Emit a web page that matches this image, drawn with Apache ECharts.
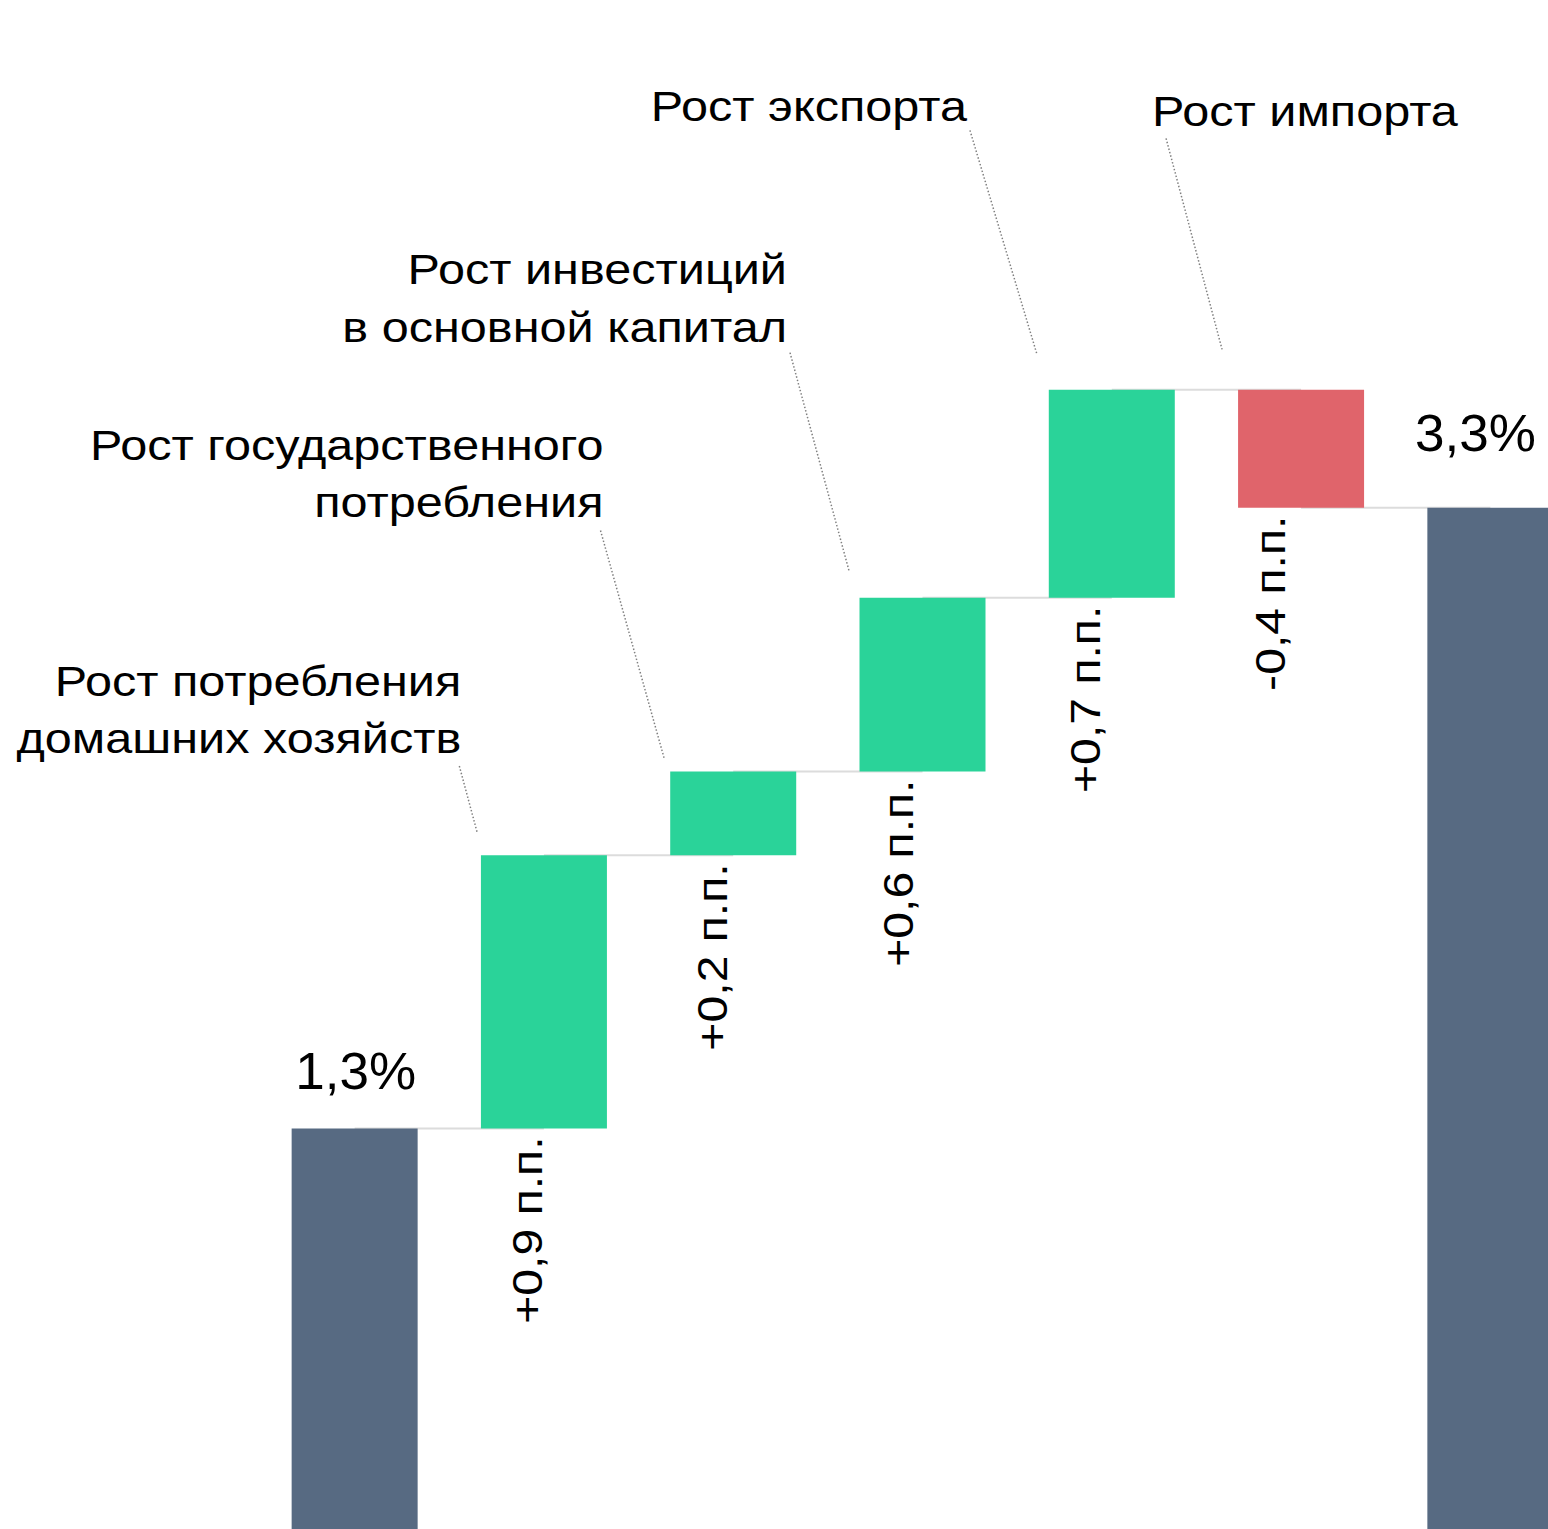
<!DOCTYPE html>
<html>
<head>
<meta charset="utf-8">
<style>
  html, body { margin: 0; padding: 0; background: #ffffff; }
  #chart { width: 1548px; height: 1529px; }
</style>
<script src="https://cdn.jsdelivr.net/npm/echarts@6/dist/echarts.min.js"></script>
</head>
<body>
<div id="chart"></div>
<script>
// ---------------- DATA ----------------
const startLabel = '1,3%';
const startValue = 1.3;
const componentNames = [
  'Рост потребления\nдомашних хозяйств',
  'Рост государственного\nпотребления',
  'Рост инвестиций\nв основной капитал',
  'Рост экспорта',
  'Рост импорта'
];
const componentDeltas = [0.88, 0.27, 0.56, 0.67, -0.38];
const deltaLabels = ['+0,9 п.п.', '+0,2 п.п.', '+0,6 п.п.', '+0,7 п.п.', '-0,4 п.п.'];
const endLabel = '3,3%';
const endValue = 3.3;

// ---------------- STYLE / LAYOUT ----------------
const FONT = '"Liberation Sans", Arial, Helvetica, sans-serif';
const COLOR_TOTAL = '#576A82';
const COLOR_UP = '#2AD399';
const COLOR_DOWN = '#E0646B';
const COLOR_CONNECTOR = '#DCDCDC';
const BAR_W = 126;
const ANNOT_FONT_SIZE = 43;
const ANNOT_STRETCH = 1.13;
const DELTA_FONT_SIZE = 43;
const DELTA_STRETCH = 1.12;
// annotation layout relative to the top-left corner of each component bar
const ANNOT_LAYOUT = [
  { tx: -19.6, ty: -88.5,  align: 'right', line: [-21.6, -89.3, -3.6, -22.3] },
  { tx: -66.7, ty: -240.3, align: 'right', line: [-69.7, -241, -5.7, -12] },
  { tx: -72.5, ty: -242.3, align: 'right', line: [-69.5, -245, -10.5, -27] },
  { tx: -81.8, ty: -254.5, align: 'right', line: [-78.8, -259.3, -11.8, -35.3] },
  { tx: -86.1, ty: -249.5, align: 'left',  line: [-72, -251.3, -16, -40.3] }
];
// horizontal shift of each rotated delta label from its bar centre
const DELTA_LABEL_DX = [5, 1, -3, -5, -9];
const TOTAL_LABEL_OFFSETS = [[1, -32], [-15, -49]];

// ---------------- DERIVED ----------------
const categories = ['start'].concat(componentNames, ['end']);
const baseData = [0];
const barData = [{ value: startValue, itemStyle: { color: COLOR_TOTAL } }];
const levels = [startValue];
let level = startValue;
componentDeltas.forEach(function (d) {
  baseData.push(d >= 0 ? level : level + d);
  barData.push({ value: Math.abs(d), itemStyle: { color: d >= 0 ? COLOR_UP : COLOR_DOWN } });
  level += d;
  levels.push(level);
});
baseData.push(0);
barData.push({ value: endValue, itemStyle: { color: COLOR_TOTAL } });

const connectorData = levels.map(function (l, i) { return [i, l]; });
const annotData = componentDeltas.map(function (d, k) { return [k + 1, Math.max(levels[k], levels[k + 1])]; });
const deltaLabelData = componentDeltas.map(function (d, k) { return [k + 1, Math.min(levels[k], levels[k + 1])]; });
const totalData = [[0, startValue], [categories.length - 1, endValue]];
const totalTexts = [startLabel, endLabel];

const chart = echarts.init(document.getElementById('chart'), null, { renderer: 'svg' });

chart.setOption({
  animation: false,
  backgroundColor: '#ffffff',
  grid: { left: 260, width: 1325, top: 11, bottom: -3, containLabel: false, outerBoundsMode: 'none' },
  xAxis: { type: 'category', data: categories, show: false },
  yAxis: { type: 'value', min: 0, max: 4.9, show: false },
  series: [
    {
      type: 'custom',
      name: 'connectors',
      z: 1,
      clip: false,
      silent: true,
      data: connectorData,
      renderItem: function (params, api) {
        const i = api.value(0);
        const v = api.value(1);
        const p0 = api.coord([i, v]);
        const p1 = api.coord([i + 1, v]);
        return {
          type: 'line',
          shape: { x1: p0[0], y1: p0[1], x2: p1[0], y2: p1[1] },
          style: { stroke: COLOR_CONNECTOR, lineWidth: 2 }
        };
      }
    },
    {
      type: 'bar',
      name: 'base',
      stack: 'waterfall',
      barWidth: BAR_W,
      silent: true,
      z: 2,
      itemStyle: { color: 'rgba(0,0,0,0)' },
      data: baseData
    },
    {
      type: 'bar',
      name: 'value',
      stack: 'waterfall',
      barWidth: BAR_W,
      z: 2,
      data: barData
    },
    {
      type: 'custom',
      name: 'annotations',
      z: 3,
      clip: false,
      silent: true,
      data: annotData,
      renderItem: function (params, api) {
        const k = params.dataIndex;
        const p = api.coord([api.value(0), api.value(1)]);
        const bx = p[0] - BAR_W / 2;
        const by = p[1];
        const a = ANNOT_LAYOUT[k];
        return {
          type: 'group',
          children: [
            {
              type: 'text',
              x: bx + a.tx,
              y: by + a.ty,
              scaleX: ANNOT_STRETCH,
              style: {
                text: componentNames[k],
                x: 0, y: 0,
                align: a.align,
                verticalAlign: 'bottom',
                fontSize: ANNOT_FONT_SIZE,
                fontFamily: FONT,
                lineHeight: 57.5,
                fill: '#000000'
              }
            },
            {
              type: 'line',
              shape: { x1: bx + a.line[0], y1: by + a.line[1], x2: bx + a.line[2], y2: by + a.line[3] },
              style: { stroke: '#808080', lineWidth: 1.5, lineDash: [1.5, 2] }
            }
          ]
        };
      }
    },
    {
      type: 'custom',
      name: 'delta labels',
      z: 3,
      clip: false,
      silent: true,
      data: deltaLabelData,
      renderItem: function (params, api) {
        const k = params.dataIndex;
        const p = api.coord([api.value(0), api.value(1)]);
        return {
          type: 'text',
          x: p[0] + DELTA_LABEL_DX[k],
          y: p[1] + 8,
          rotation: Math.PI / 2,
          scaleX: DELTA_STRETCH,
          style: {
            text: deltaLabels[k],
            x: 0, y: 0,
            align: 'right',
            verticalAlign: 'bottom',
            fontSize: DELTA_FONT_SIZE,
            fontFamily: FONT,
            fill: '#000000'
          }
        };
      }
    },
    {
      type: 'custom',
      name: 'total labels',
      z: 3,
      clip: false,
      silent: true,
      data: totalData,
      renderItem: function (params, api) {
        const k = params.dataIndex;
        const p = api.coord([api.value(0), api.value(1)]);
        const off = TOTAL_LABEL_OFFSETS[k];
        return {
          type: 'text',
          x: p[0] + off[0],
          y: p[1] + off[1],
          scaleX: 1.02,
          style: {
            text: totalTexts[k],
            x: 0, y: 0,
            align: 'center',
            verticalAlign: 'bottom',
            fontSize: 52,
            fontFamily: FONT,
            fill: '#000000'
          }
        };
      }
    }
  ]
});
</script>
</body>
</html>
